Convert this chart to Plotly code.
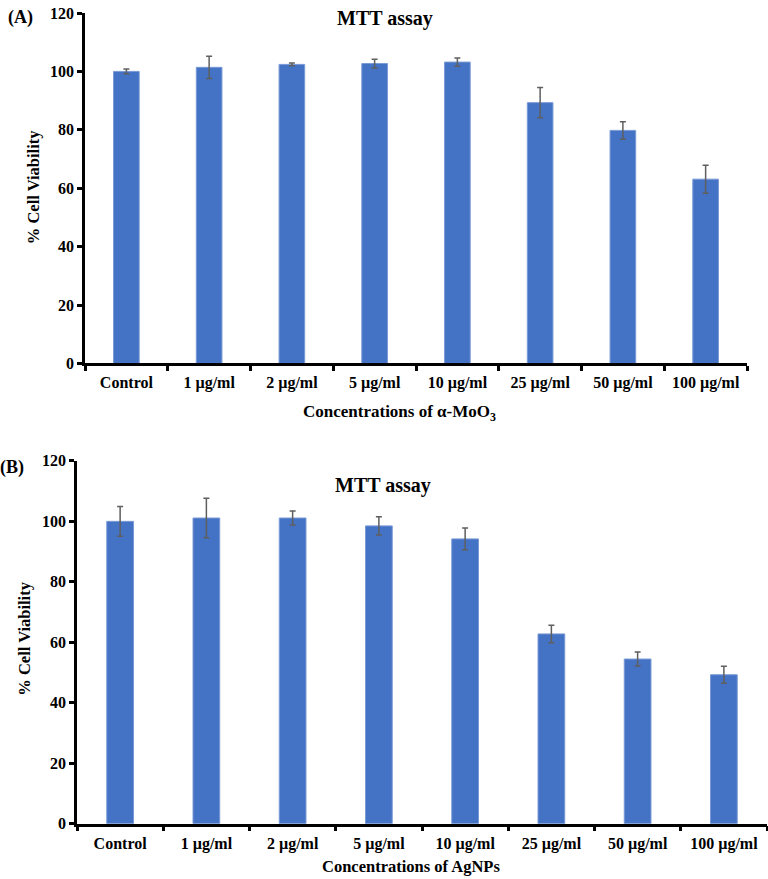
import plotly.graph_objects as go

categories = ["Control", "1 µg/ml", "2 µg/ml", "5 µg/ml", "10 µg/ml", "25 µg/ml", "50 µg/ml", "100 µg/ml"]
moo3_values = [100.0, 101.4, 102.4, 102.7, 103.2, 89.3, 79.8, 63.1]
moo3_errors = [0.8, 3.8, 0.5, 1.5, 1.4, 5.2, 3.0, 4.8]
agnp_values = [99.9, 101.0, 101.0, 98.4, 94.1, 62.7, 54.4, 49.2]
agnp_errors = [4.9, 6.5, 2.3, 3.0, 3.6, 2.9, 2.3, 2.8]
y_ticks = [0, 20, 40, 60, 80, 100, 120]

W, H = 768, 879
BAR = "#4472C4"
FONT = "Liberation Serif"
# observed vertical placement of the figure in the photographed page
Y0, HV = 8.0, 861.0

def px(x):
    return x / W

def py(y):
    return min(1.0, max(0.0, 1 - (y - Y0) / HV))

fig = go.Figure()
for vals, errs, xa, ya in [(moo3_values, moo3_errors, "x", "y"), (agnp_values, agnp_errors, "x2", "y2")]:
    fig.add_trace(go.Bar(
        x=categories, y=vals, xaxis=xa, yaxis=ya,
        marker=dict(color=BAR, line=dict(color="#7a9ad6", width=1)),
        width=0.31,
        error_y=dict(type="data", array=errs, visible=True, color="#5f5f5f", thickness=1.5, width=3),
        showlegend=False,
    ))

axis_common = dict(showline=True, linecolor="black", linewidth=2.5, ticks="outside",
                   tickcolor="black", tickwidth=2.5, ticklen=5, showgrid=False, zeroline=False,
                   tickfont=dict(family=FONT, size=16, color="black", weight="bold"))

fig.update_layout(
    width=W, height=H, margin=dict(l=0, r=0, t=0, b=0),
    paper_bgcolor="white", plot_bgcolor="white",
    xaxis=dict(domain=[px(85), px(747)], anchor="y", tickson="boundaries", tickangle=0,
               ticklabelstandoff=3, **axis_common),
    yaxis=dict(domain=[py(363), py(13)], anchor="x", range=[0, 120], tickvals=y_ticks,
               ticklabeloverflow="allow", **axis_common),
    xaxis2=dict(domain=[px(77), px(767)], anchor="y2", tickson="boundaries", tickangle=0,
                ticklabelstandoff=3, **axis_common),
    yaxis2=dict(domain=[py(822.7), py(460)], anchor="x2", range=[0, 120], tickvals=y_ticks,
                ticklabeloverflow="allow", **axis_common),
)

def ann(text, x, y, size, angle=0):
    fig.add_annotation(text=text, x=px(x), y=py(y), xref="paper", yref="paper",
                       showarrow=False, textangle=angle, xanchor="center", yanchor="middle",
                       font=dict(family=FONT, size=size, color="black", weight="bold"))

ann("(A)", 20, 17, 18)
ann("MTT assay", 385, 18, 20)
ann("% Cell Viability", 33, 187, 16.5, -90)
ann("Concentrations of α-MoO<sub>3</sub>", 399, 413, 17)

ann("(B)", 12, 467, 18)
ann("MTT assay", 383, 485, 20)
ann("% Cell Viability", 25, 638, 16.5, -90)
ann("Concentrations of AgNPs", 411, 866, 16.5)

fig.write_html("out.html", config={"displayModeBar": False},
               post_script="document.body.style.margin='0';document.body.style.overflow='hidden';")
